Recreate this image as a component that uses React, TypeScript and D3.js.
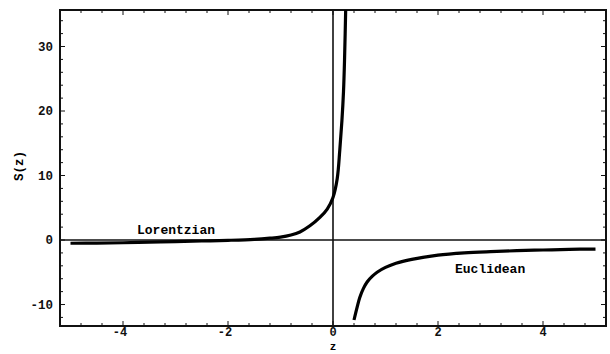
import { useEffect, useRef } from "react";
import * as d3 from "d3";

// Lorentzian branch (left curve, runs off the top near z = 0.25)
const lorentzZ = [-5, -4.5, -4, -3.5, -3, -2.5, -2, -1.5, -1.2, -1, -0.8, -0.63, -0.44, -0.25, -0.11, 0, 0.08, 0.13, 0.17, 0.2, 0.22, 0.245];
const lorentzS = [-0.5, -0.48, -0.42, -0.33, -0.25, -0.15, -0.05, 0.1, 0.28, 0.45, 0.78, 1.25, 2.2, 3.5, 4.8, 6.6, 9.5, 14, 18.5, 23, 28, 37];

// Euclidean branch (right curve)
const euclidZ = [0.4, 0.46, 0.51, 0.58, 0.65, 0.75, 0.84, 1.0, 1.2, 1.5, 2.0, 2.5, 3.0, 3.5, 4.0, 4.5, 5.0];
const euclidS = [-12.4, -10.4, -8.9, -7.5, -6.5, -5.6, -5.0, -4.25, -3.6, -3.0, -2.35, -2.0, -1.8, -1.65, -1.55, -1.45, -1.4];

const xTicks = [-4, -2, 0, 2, 4];
const yTicks = [-10, 0, 10, 20, 30];

const W = 610;
const H = 354;
const FONT = "'Liberation Mono', 'Courier New', monospace";

export default function App() {
  const ref = useRef<SVGSVGElement>(null);

  useEffect(() => {
    if (!ref.current) return;
    const svg = d3.select(ref.current);
    svg.selectAll("*").remove();

    const left = 60, right = 606, top = 10, bottom = 326;

    const x = d3.scaleLinear().domain([-5.2, 5.2]).range([left, right]);
    const y = d3.scaleLinear().domain([-13.33, 35.66]).range([bottom, top]);

    svg.append("rect").attr("width", W).attr("height", H).attr("fill", "#fff");

    svg
      .append("defs")
      .append("clipPath")
      .attr("id", "plot-clip")
      .append("rect")
      .attr("x", left)
      .attr("y", top)
      .attr("width", right - left)
      .attr("height", bottom - top);

    // axes through origin
    svg
      .append("line")
      .attr("x1", left)
      .attr("x2", right)
      .attr("y1", y(0))
      .attr("y2", y(0))
      .attr("stroke", "#111")
      .attr("stroke-width", 1.3);
    svg
      .append("line")
      .attr("x1", x(0))
      .attr("x2", x(0))
      .attr("y1", top)
      .attr("y2", bottom)
      .attr("stroke", "#111")
      .attr("stroke-width", 1.6);

    // frame ticks
    const ticks = svg.append("g").attr("stroke", "#111").attr("stroke-width", 1);
    const xMinor = d3.range(-5.2, 5.21, 0.4).map((d) => Math.round(d * 10) / 10).filter((d) => d >= -5.2 && d <= 5.2);
    const yMinor = d3.range(-12, 35, 2);
    xMinor.forEach((d) => {
      const major = xTicks.includes(d);
      const len = major ? 5 : 3;
      ticks.append("line").attr("x1", x(d)).attr("x2", x(d)).attr("y1", bottom).attr("y2", bottom - len);
      ticks.append("line").attr("x1", x(d)).attr("x2", x(d)).attr("y1", top).attr("y2", top + len);
    });
    yMinor.forEach((d) => {
      const major = yTicks.includes(d);
      const len = major ? 5 : 3;
      ticks.append("line").attr("x1", left).attr("x2", left + len).attr("y1", y(d)).attr("y2", y(d));
      ticks.append("line").attr("x1", right).attr("x2", right - len).attr("y1", y(d)).attr("y2", y(d));
    });

    // frame
    svg
      .append("rect")
      .attr("x", left)
      .attr("y", top)
      .attr("width", right - left)
      .attr("height", bottom - top)
      .attr("fill", "none")
      .attr("stroke", "#111")
      .attr("stroke-width", 2);

    // curves
    const line = d3
      .line<[number, number]>()
      .x((d) => x(d[0]))
      .y((d) => y(d[1]))
      .curve(d3.curveCatmullRom.alpha(0.5));

    const curves = svg.append("g").attr("clip-path", "url(#plot-clip)");
    curves
      .append("path")
      .attr("d", line(lorentzZ.map((z, i) => [z, lorentzS[i]] as [number, number])))
      .attr("fill", "none")
      .attr("stroke", "#000")
      .attr("stroke-width", 3.2);
    curves
      .append("path")
      .attr("d", line(euclidZ.map((z, i) => [z, euclidS[i]] as [number, number])))
      .attr("fill", "none")
      .attr("stroke", "#000")
      .attr("stroke-width", 3.2);

    // tick labels
    svg
      .append("g")
      .selectAll("text")
      .data(xTicks)
      .join("text")
      .attr("x", (d) => x(d) - (d < 0 ? 3 : 0))
      .attr("y", 336)
      .attr("text-anchor", "middle")
      .attr("font-family", FONT)
      .attr("font-size", 12)
      .attr("font-weight", "bold")
      .attr("fill", "#111")
      .text((d) => `${d}`);

    svg
      .append("g")
      .selectAll("text")
      .data(yTicks)
      .join("text")
      .attr("x", 53)
      .attr("y", (d) => y(d))
      .attr("dy", "0.35em")
      .attr("text-anchor", "end")
      .attr("font-family", FONT)
      .attr("font-size", 12.5)
      .attr("font-weight", "bold")
      .attr("fill", "#111")
      .text((d) => `${d}`);

    // axis titles
    svg
      .append("text")
      .attr("x", x(0))
      .attr("y", 350)
      .attr("text-anchor", "middle")
      .attr("font-family", FONT)
      .attr("font-size", 11)
      .attr("font-weight", "bold")
      .text("z");
    svg
      .append("text")
      .attr("transform", "translate(23,166) rotate(-90)")
      .attr("text-anchor", "middle")
      .attr("font-family", FONT)
      .attr("font-size", 12.5)
      .attr("font-weight", "bold")
      .text("S(z)");

    // curve labels
    svg
      .append("text")
      .attr("x", 137)
      .attr("y", 234)
      .attr("font-family", FONT)
      .attr("font-size", 13)
      .attr("font-weight", "bold")
      .text("Lorentzian");
    svg
      .append("text")
      .attr("x", 455)
      .attr("y", 273)
      .attr("font-family", FONT)
      .attr("font-size", 13)
      .attr("font-weight", "bold")
      .text("Euclidean");
  }, []);

  return <svg ref={ref} width={W} height={H} style={{ position: "absolute", left: 0, top: 0 }} />;
}
